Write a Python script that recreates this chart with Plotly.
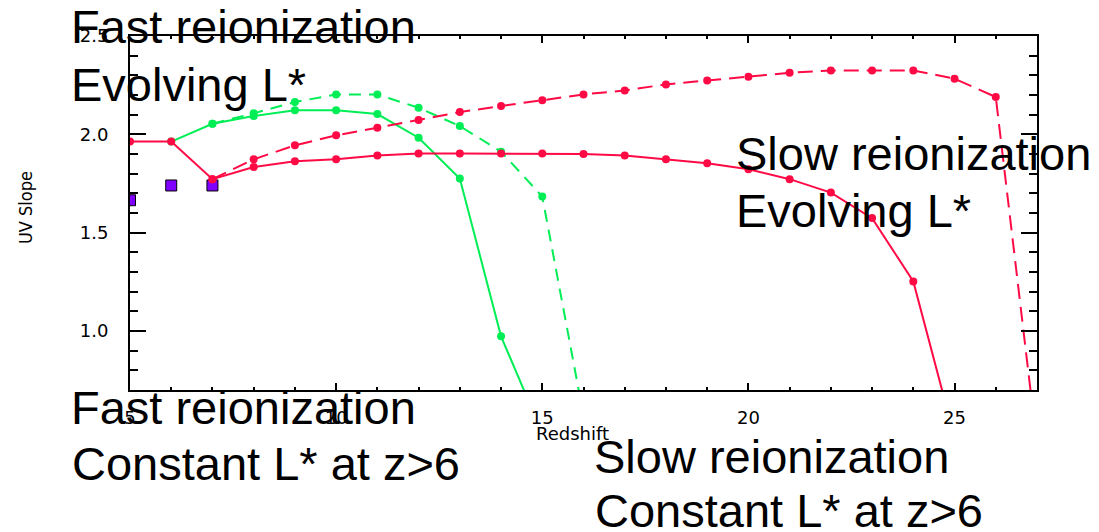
import plotly.graph_objects as go

# ---------------- data ----------------
red_solid_z = [5, 6, 7, 8, 9, 10, 11, 12, 13, 14, 15, 16, 17, 18, 19, 20, 21, 22, 23, 24, 25]
red_solid_uv = [1.963, 1.963, 1.772, 1.834, 1.863, 1.873, 1.893, 1.902, 1.902, 1.902, 1.902,
                1.900, 1.893, 1.873, 1.853, 1.822, 1.772, 1.704, 1.574, 1.252, 0.46]

red_dash_z = [7, 8, 9, 10, 11, 12, 13, 14, 15, 16, 17, 18, 19, 20, 21, 22, 23, 24, 25, 26, 27]
red_dash_uv = [1.772, 1.873, 1.944, 1.995, 2.034, 2.073, 2.113, 2.144, 2.173, 2.203, 2.223,
               2.254, 2.274, 2.293, 2.313, 2.325, 2.325, 2.325, 2.283, 2.190, 0.42]

green_solid_z = [6, 7, 8, 9, 10, 11, 12, 13, 14, 15]
green_solid_uv = [1.963, 2.054, 2.093, 2.123, 2.123, 2.103, 1.983, 1.775, 0.973, 0.48]

green_dash_z = [7, 8, 9, 10, 11, 12, 13, 14, 15, 16]
green_dash_uv = [2.054, 2.107, 2.164, 2.203, 2.203, 2.135, 2.042, 1.912, 1.684, 0.57]

obs_z = [5, 6, 7]
obs_uv = [1.665, 1.740, 1.740]

x_ticks = [5, 10, 15, 20, 25]
y_ticks = [1.0, 1.5, 2.0, 2.5]

RED = "#ff0a45"
GREEN = "#00ee55"
PURPLE = "#8000ff"

# ---------------- figure ----------------
fig = go.Figure()

fig.add_trace(go.Scatter(x=obs_z, y=obs_uv, mode="markers",
                         marker=dict(symbol="square", size=11, color=PURPLE,
                                     line=dict(color="black", width=1)),
                         showlegend=False))
fig.add_trace(go.Scatter(x=green_solid_z, y=green_solid_uv, mode="lines+markers",
                         line=dict(color=GREEN, width=2),
                         marker=dict(size=8, color=GREEN), showlegend=False))
fig.add_trace(go.Scatter(x=green_dash_z, y=green_dash_uv, mode="lines+markers",
                         line=dict(color=GREEN, width=2, dash="12px,8px"),
                         marker=dict(size=8, color=GREEN), showlegend=False))
fig.add_trace(go.Scatter(x=red_dash_z, y=red_dash_uv, mode="lines+markers",
                         line=dict(color=RED, width=2, dash="15px,8px"),
                         marker=dict(size=8, color=RED), showlegend=False))
fig.add_trace(go.Scatter(x=red_solid_z, y=red_solid_uv, mode="lines+markers",
                         line=dict(color=RED, width=2),
                         marker=dict(size=8, color=RED), showlegend=False))

# plot area in pixels: left 130, right 1037, top 36, bottom 390
L, R, T, B = 130, 1037, 36, 390
W, H = 1099, 532


def px(x):
    return (x - L) / (R - L)


def py(y):
    return (B - y) / (B - T)


tick_font = dict(family="DejaVu Sans", size=18, color="black")

fig.update_layout(
    width=W, height=H,
    margin=dict(l=L, r=W - R, t=T, b=H - B),
    paper_bgcolor="white", plot_bgcolor="white",
    showlegend=False,
    xaxis=dict(range=[5, 27], tickvals=x_ticks, ticks="inside", ticklen=7, tickwidth=2,
               tickcolor="black", showline=True, linewidth=2, linecolor="black",
               mirror="allticks", showgrid=False, zeroline=False, tickfont=tick_font,
               ticklabelstandoff=10,
               minor=dict(dtick=1, ticks="inside", ticklen=3, tickwidth=2,
                          tickcolor="black", showgrid=False)),
    yaxis=dict(range=[0.7, 2.5], tickvals=y_ticks, tickformat=".1f", ticks="inside",
               ticklen=16, tickwidth=2, tickcolor="black", showline=True, linewidth=2,
               linecolor="black", mirror="allticks", showgrid=False, zeroline=False,
               tickfont=tick_font, ticklabelstandoff=16,
               minor=dict(dtick=0.1, ticks="inside", ticklen=8, tickwidth=2,
                          tickcolor="black", showgrid=False)),
)

big = dict(family="Liberation Sans, Arial, sans-serif", size=47, color="black")
labels = [
    ("Fast reionization", 69, 26.5),
    ("Evolving L*", 69, 84.5),
    ("Slow reionization", 734, 153),
    ("Evolving L*", 734, 210.5),
    ("Fast reionization", 69, 407.5),
    ("Constant L* at z>6", 70, 463.5),
    ("Slow reionization", 592, 456),
    ("Constant L* at z>6", 593, 510),
]
for text, x, y in labels:
    fig.add_annotation(text=text, x=px(x), y=py(y), xref="paper", yref="paper",
                       xanchor="left", yanchor="middle", showarrow=False, font=big)

fig.add_annotation(text="UV Slope", x=px(25), y=py(208), xref="paper", yref="paper",
                   xanchor="center", yanchor="middle", textangle=-90, showarrow=False,
                   font=dict(family="DejaVu Sans Condensed, Liberation Sans Narrow, sans-serif",
                             size=18, color="black"))
fig.add_annotation(text="Redshift", x=px(572), y=py(433), xref="paper", yref="paper",
                   xanchor="center", yanchor="middle", showarrow=False,
                   font=dict(family="DejaVu Sans", size=18, color="black"))

fig.write_html("out.html")
